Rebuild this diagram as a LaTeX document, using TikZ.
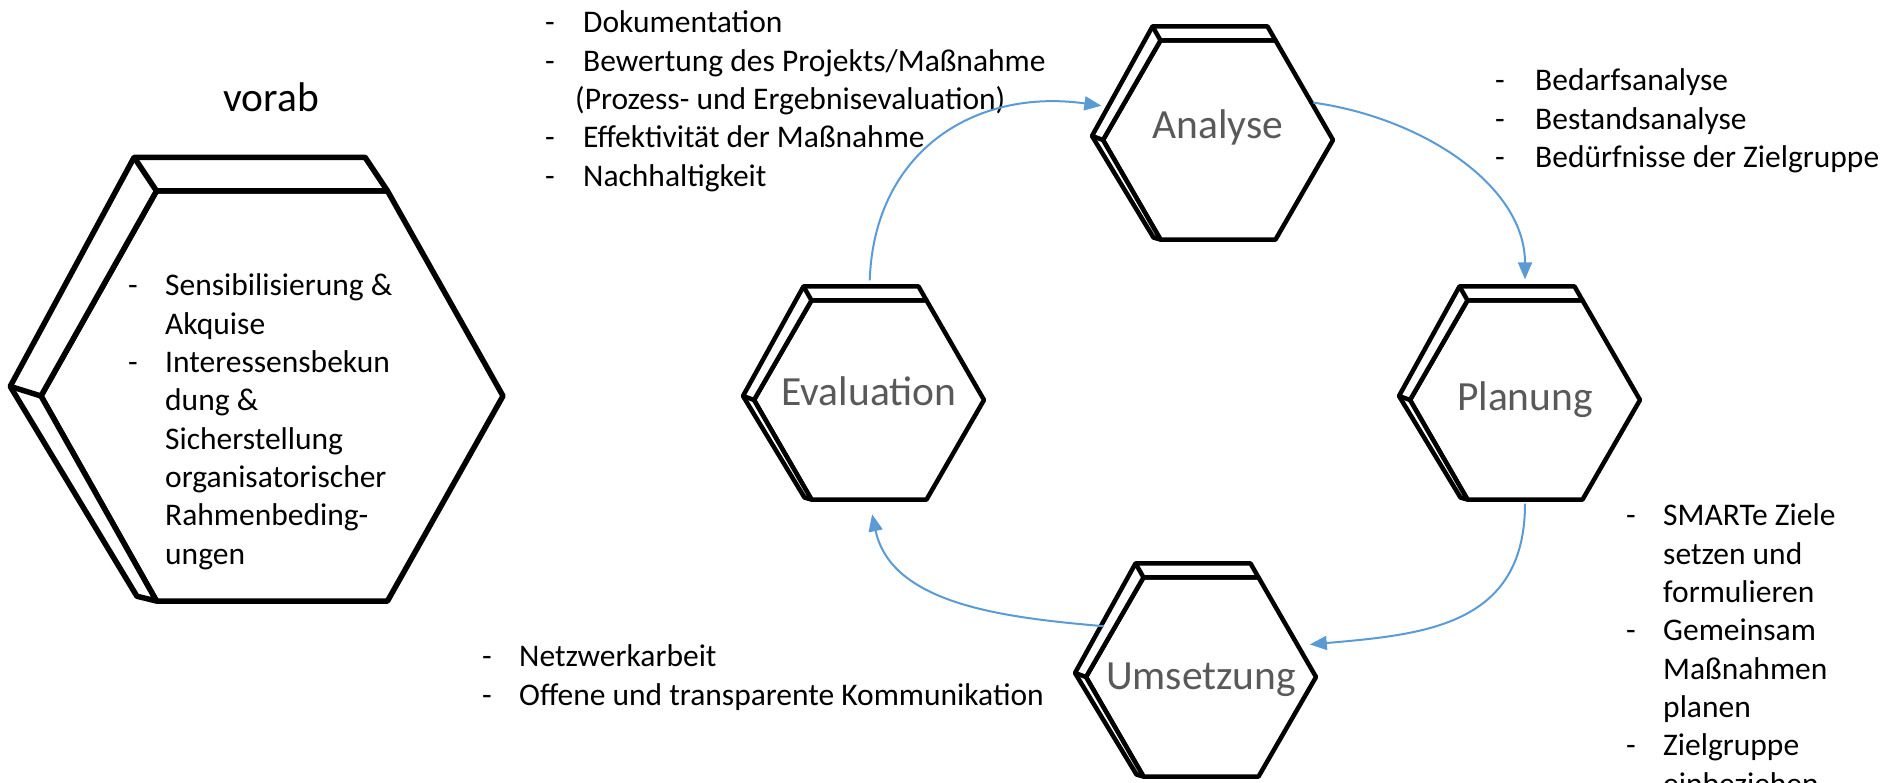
\documentclass[tikz,border=0pt]{standalone}
\usepackage{fontspec}
\setmainfont{Carlito}
\usetikzlibrary{shapes.geometric,arrows.meta,calc}

\definecolor{flowblue}{HTML}{5B9BD5}
\definecolor{labelgrey}{HTML}{595959}

% back edge of a hexagon block: [style] node, x-scale, y-scale
\newcommand{\hexrim}[4][]{%
  \filldraw[rim,#1] (#2.240) -- ($(#2.240)+(-7*#3,2*#4)$)
    -- ($(#2.180)+(-11*#3,4*#4)$) coordinate (#2back)
    -- ($(#2.120)+(-8*#3,14*#4)$) coordinate (#2top)
    -- ($(#2.60)+(-8*#3,14*#4)$) -- (#2.60) -- (#2.120) -- (#2.180) -- cycle;
  \draw[rim,#1] (#2.180) -- (#2back) (#2.120) -- (#2top);
}

\begin{document}
\begin{tikzpicture}[x=1pt,y=1pt,
  hexblock/.style={regular polygon, regular polygon sides=6, minimum size=230pt,
    inner sep=0pt, outer sep=0pt, draw, fill=white, line width=4.5pt, line join=round},
  hexlabel/.style={inner sep=0pt, text=labelgrey, font=\fontsize{41.5}{50}\selectfont},
  rim/.style={draw, fill=white, line width=4.5pt, line join=round},
  notes/.style={anchor=base west, inner sep=0pt, font=\fontsize{31.5}{38.3}\selectfont},
  flow/.style={draw=flowblue, line width=2pt, -{Triangle[length=17pt,width=14pt]}}]

  \useasboundingbox (0,0) rectangle (1884,783);
  \clip (0,0) rectangle (1884,783);

  \draw (271,671) node [anchor=base, font=\fontsize{41.5}{50}\selectfont] (vorab) {vorab};

  \draw (272,387) node [hexblock, minimum size=462pt, line width=5.5pt, yscale=1.025, transform shape] (pre) {};
  \hexrim[line width=5.5pt]{pre}{2.8}{2.4}

  \draw (869,383) node [hexblock, label={[hexlabel, yshift=9pt]center:Evaluation}] (eva) {};
  \draw (1218,643) node [hexblock, label={[hexlabel, yshift=13pt]center:Analyse}] (ana) {};
  \draw (1525,383) node [hexblock, label={[hexlabel, yshift=0pt]center:Planung}] (pla) {};
  \draw (1201,106) node [hexblock, label={[hexlabel, yshift=-3pt]center:Umsetzung}] (ums) {};
  \hexrim{eva}{1}{1}
  \hexrim{ana}{1}{1}
  \hexrim{pla}{1}{1}
  \hexrim{ums}{1}{1}

  \draw (128,487) node [notes] (pretext)
  {\begin{tabular}[t]{@{}p{37pt}@{}l@{}}-&Sensibilisierung \&\\&Akquise\\-&Interessensbekun\\&dung \&\\&Sicherstellung\\&organisatorischer\\&Rahmenbeding-\\&ungen\end{tabular}};

  \draw (545,750) node [notes] (evatext)
  {\begin{tabular}[t]{@{}p{38pt}@{}l@{}}-&Dokumentation\\-&Bewertung des Projekts/Maßnahme\\&\hspace{-8pt}(Prozess- und Ergebnisevaluation)\\-&Effektivität der Maßnahme\\-&Nachhaltigkeit\end{tabular}};

  \draw (1495,692) node [notes] (anatext)
  {\begin{tabular}[t]{@{}p{40pt}@{}l@{}}-&Bedarfsanalyse\\-&Bestandsanalyse\\-&Bedürfnisse der Zielgruppe\end{tabular}};

  \draw (1626,257) node [notes] (platext)
  {\begin{tabular}[t]{@{}p{37pt}@{}l@{}}-&SMARTe Ziele\\&setzen und\\&formulieren\\-&Gemeinsam\\&Maßnahmen\\&planen\\-&Zielgruppe\\&einbeziehen\end{tabular}};

  \draw (482,116) node [notes] (umstext)
  {\begin{tabular}[t]{@{}p{37pt}@{}l@{}}-&Netzwerkarbeit\\-&Offene und transparente Kommunikation\end{tabular}};

  \draw[flow, shorten <=20pt, shorten >=20pt] (eva.north) to[out=88, in=172, looseness=1.2] (ana.162);
  \draw[flow, shorten <=2pt, shorten >=21pt] (ana.22) to[out=-8, in=90] (pla.north);
  \draw[flow, shorten <=4pt, shorten >=12pt] (pla.south) to[out=-90, in=5, looseness=1.2] (ums.18);
  \draw[flow, shorten <=11pt, shorten >=15pt] (ums.150) to[out=175, in=-78] (eva.south);

\end{tikzpicture}
\end{document}
